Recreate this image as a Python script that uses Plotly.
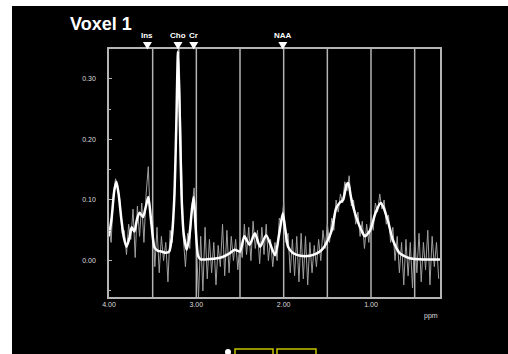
import numpy as np
import plotly.graph_objects as go

# ---- data ----
fit_ppm = [4.00, 3.97, 3.94, 3.915, 3.89, 3.86, 3.83, 3.80, 3.77, 3.74, 3.71, 3.68, 3.65, 3.61,
           3.58, 3.55, 3.52, 3.48, 3.44, 3.40, 3.35, 3.31, 3.28, 3.25, 3.23, 3.21, 3.19, 3.17,
           3.145, 3.11, 3.08, 3.05, 3.03, 3.01, 2.98, 2.95, 2.90, 2.80, 2.70, 2.62, 2.56, 2.50,
           2.45, 2.39, 2.33, 2.27, 2.20, 2.10, 2.05, 2.01, 1.98, 1.95, 1.89, 1.81, 1.70, 1.62,
           1.56, 1.51, 1.45, 1.40, 1.36, 1.32, 1.28, 1.26, 1.23, 1.17, 1.11, 1.07, 1.01, 0.95,
           0.89, 0.86, 0.80, 0.75, 0.67, 0.56, 0.40, 0.21]
fit_val = [0.040, 0.070, 0.115, 0.130, 0.110, 0.070, 0.038, 0.023, 0.035, 0.055, 0.048, 0.068,
           0.079, 0.072, 0.088, 0.105, 0.070, 0.022, 0.016, 0.015, 0.013, 0.015, 0.040, 0.110,
           0.220, 0.345, 0.240, 0.110, 0.045, 0.018, 0.040, 0.085, 0.105, 0.060, 0.008, 0.002,
           0.002, 0.003, 0.006, 0.012, 0.018, 0.015, 0.040, 0.026, 0.045, 0.023, 0.042, 0.009,
           0.045, 0.078, 0.050, 0.023, 0.012, 0.008, 0.008, 0.012, 0.018, 0.029, 0.050, 0.086,
           0.095, 0.100, 0.125, 0.128, 0.105, 0.072, 0.050, 0.040, 0.050, 0.078, 0.095, 0.089,
           0.062, 0.034, 0.012, 0.004, 0.002, 0.002]

raw_val = [0.052, 0.030, 0.110, 0.135, 0.118, 0.100, 0.045, 0.050, 0.010, 0.060,
           0.035, 0.085, 0.005, 0.090, 0.040, 0.095, 0.030, 0.110, 0.155, 0.060,
           0.070, -0.010, 0.055, -0.020, 0.040, 0.000, 0.030, -0.035, 0.050, 0.030,
           0.120, 0.250, 0.360, 0.200, 0.040, -0.010, 0.045, 0.020, 0.090, 0.120,
           0.020, -0.060, 0.040, -0.050, 0.055, -0.030, 0.035, -0.020, 0.030, -0.040,
           0.025, -0.010, 0.060, -0.025, 0.050, -0.020, 0.040, 0.000, 0.035, -0.015,
           0.030, 0.005, 0.060, 0.010, 0.055, 0.000, 0.065, 0.020, 0.050, -0.005,
           0.055, 0.010, 0.060, 0.000, 0.035, -0.010, 0.030, 0.000, 0.070, 0.060,
           0.095, 0.030, 0.045, -0.020, 0.035, -0.025, 0.040, -0.035, 0.045, -0.030,
           0.040, -0.040, 0.030, -0.020, 0.025, -0.010, 0.035, 0.000, 0.050, 0.020,
           0.060, 0.030, 0.070, 0.050, 0.100, 0.080, 0.110, 0.095, 0.130, 0.115,
           0.140, 0.090, 0.100, 0.060, 0.080, 0.040, 0.065, 0.020, 0.060, 0.030,
           0.075, 0.050, 0.095, 0.080, 0.110, 0.085, 0.100, 0.060, 0.075, 0.030,
           0.055, 0.000, 0.040, -0.020, 0.030, -0.040, 0.035, -0.025, 0.030, -0.045,
           0.040, -0.020, 0.045, -0.035, 0.030, -0.015, 0.050, -0.040, 0.040, -0.010,
           0.030, -0.030]
raw_ppm = np.linspace(4.0, 0.225, len(raw_val))

grid_ppm = [3.5, 3.0, 2.5, 2.0, 1.5, 1.0, 0.5]
metab_names = ["Ins", "Cho", "Cr", "NAA"]
metab_ppm = [3.56, 3.21, 3.03, 2.01]

x_tick_vals = [4.0, 3.0, 2.0, 1.0]
x_tick_text = ["4.00", "3.00", "2.00", "1.00"]
y_tick_vals = [0.0, 0.1, 0.2, 0.3]
y_tick_text = ["0.00", "0.10", "0.20", "0.30"]

X_RANGE = [4.0, 0.21]
Y_RANGE = [-0.060, 0.349]

W, H = 508, 354
L, R, T, B = 109, 68, 49, 57
pw, ph = W - L - R, H - T - B


def px(x):
    return (x - L) / pw


def py(y):
    return (H - B - y) / ph


fig = go.Figure()

fig.add_trace(go.Scatter(x=raw_ppm, y=raw_val, mode="lines",
                         line=dict(color="#a0a0a0", width=1), hoverinfo="skip"))
fig.add_trace(go.Scatter(x=fit_ppm, y=fit_val, mode="lines",
                         line=dict(color="#ffffff", width=2.5, shape="spline", smoothing=0.6),
                         hoverinfo="skip"))

shapes = []
for g in grid_ppm:
    shapes.append(dict(type="line", xref="x", yref="paper", x0=g, x1=g, y0=0, y1=1,
                       line=dict(color="#b4b4b4", width=1.5), layer="below"))

# metabolite triangles (half-width in ppm = 4 px)
hw = 4.5 * (X_RANGE[0] - X_RANGE[1]) / pw
for p in metab_ppm:
    shapes.append(dict(type="path", xref="x", yref="paper",
                       path="M %f,%f L %f,%f L %f,%f Z" % (p - hw, py(42), p + hw, py(42), p, py(49.5)),
                       fillcolor="white", line=dict(width=0)))

# white frame strips (left and top)
shapes.append(dict(type="rect", xref="paper", yref="paper", x0=px(-5), x1=px(12),
                   y0=py(360), y1=py(-5), fillcolor="white", line=dict(width=0)))
shapes.append(dict(type="rect", xref="paper", yref="paper", x0=px(-5), x1=px(515),
                   y0=py(6), y1=py(-5), fillcolor="white", line=dict(width=0)))
# bottom widgets
shapes.append(dict(type="rect", xref="paper", yref="paper", x0=px(235), x1=px(273),
                   y0=py(358), y1=py(349), line=dict(color="#c8c400", width=1.5)))
shapes.append(dict(type="rect", xref="paper", yref="paper", x0=px(277), x1=px(316),
                   y0=py(358), y1=py(349), line=dict(color="#c8c400", width=1.5)))
shapes.append(dict(type="circle", xref="paper", yref="paper", x0=px(225), x1=px(231),
                   y0=py(355), y1=py(349), fillcolor="white", line=dict(width=0)))

annotations = []
for name, p in zip(metab_names, metab_ppm):
    annotations.append(dict(x=p, y=py(35), xref="x", yref="paper", text="<b>%s</b>" % name,
                            showarrow=False, yanchor="middle",
                            font=dict(size=8, color="white", family="Liberation Sans")))
annotations.append(dict(x=px(68), y=py(24), xref="paper", yref="paper", text="<b>Voxel 1</b>",
                        showarrow=False, xanchor="left", yanchor="middle",
                        font=dict(size=18, color="white", family="Liberation Sans")))
annotations.append(dict(x=px(440), y=py(316), xref="paper", yref="paper", text="ppm",
                        showarrow=False, xanchor="right", yanchor="middle",
                        font=dict(size=7, color="#dddddd", family="Liberation Sans")))

fig.update_layout(
    width=W, height=H,
    margin=dict(l=L, r=R, t=T, b=B, pad=0),
    paper_bgcolor="black", plot_bgcolor="black",
    showlegend=False,
    shapes=shapes, annotations=annotations,
    xaxis=dict(range=X_RANGE, tickvals=x_tick_vals, ticktext=x_tick_text,
               showgrid=False, zeroline=False, showline=True, mirror=True,
               linecolor="#b4b4b4", linewidth=1.5, ticks="",
               tickfont=dict(size=7, color="#dddddd", family="Liberation Sans")),
    yaxis=dict(range=Y_RANGE, tickvals=y_tick_vals, ticktext=y_tick_text,
               showgrid=False, zeroline=False, showline=True, mirror=True,
               linecolor="#b4b4b4", linewidth=1.5, ticks="inside", ticklen=3,
               tickcolor="#b4b4b4", ticklabelstandoff=10,
               minor=dict(dtick=0.05, ticks="inside", ticklen=2, tickcolor="#b4b4b4"),
               tickfont=dict(size=7, color="#dddddd", family="Liberation Sans")),
)

fig.write_html("out.html")
